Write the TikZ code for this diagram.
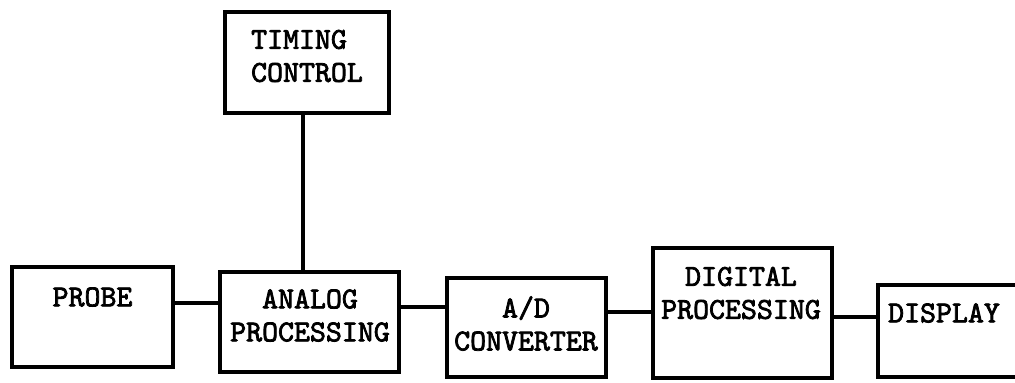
\documentclass[tikz,border=0pt]{standalone}
\usepackage{fontspec}
\setmonofont{lmmono10-regular.otf}[BoldFont=lmmono10-regular.otf, BoldFeatures={FakeBold=2.5}]
\usepackage{tikz}

\begin{document}
\begin{tikzpicture}[x=0.5pt, y=-0.5pt, line width=1.6pt,
  blk/.style={draw, rectangle, inner sep=0pt},
  lbl/.style={inner sep=0pt, align=center, font=\fontsize{15.2}{16.5}\selectfont\ttfamily\bfseries}]
 \useasboundingbox (0,0) rectangle (1015,382);
 \clip (0,0) rectangle (1015,382);
 \node [blk, minimum width=82pt, minimum height=50.5pt] (timing) at (307,62.5) {};
 \node [blk, minimum width=80.5pt, minimum height=50pt] (probe) at (92.5,317) {};
 \node [blk, minimum width=89.5pt, minimum height=50pt] (analog) at (309.5,322) {};
 \node [blk, minimum width=79.5pt, minimum height=49.5pt] (adc) at (526.5,327.5) {};
 \node [blk, minimum width=89.5pt, minimum height=65pt] (digital) at (742.5,313) {};
 \node [blk, minimum width=75pt, minimum height=46pt] (display) at (953,331) {};
 \node [lbl, align=left] (timingtxt) at (307,56) {TIMING\\CONTROL};
 \node [lbl] (probetxt) at (92.5,297) {PROBE};
 \node [lbl] (analogtxt) at (310,315.5) {ANALOG\\PROCESSING};
 \node [lbl] (adctxt) at (526,323.5) {A/D\\CONVERTER};
 \node [lbl] (digitaltxt) at (741,293) {DIGITAL\\PROCESSING};
 \node [lbl] (displaytxt) at (944,313) {DISPLAY};
 \draw ([xshift=-2pt]timing.south) -- ([xshift=-2pt]timing.south |- analog.north);
 \draw ([yshift=7pt]probe.east) -- ([yshift=7pt]probe.east -| analog.west);
 \draw ([yshift=7.5pt]analog.east) -- ([yshift=7.5pt]analog.east -| adc.west);
 \draw ([yshift=7.75pt]adc.east) -- ([yshift=7.75pt]adc.east -| digital.west);
 \draw ([yshift=-2pt]digital.east) -- ([yshift=-2pt]digital.east -| display.west);
\end{tikzpicture}
\end{document}
